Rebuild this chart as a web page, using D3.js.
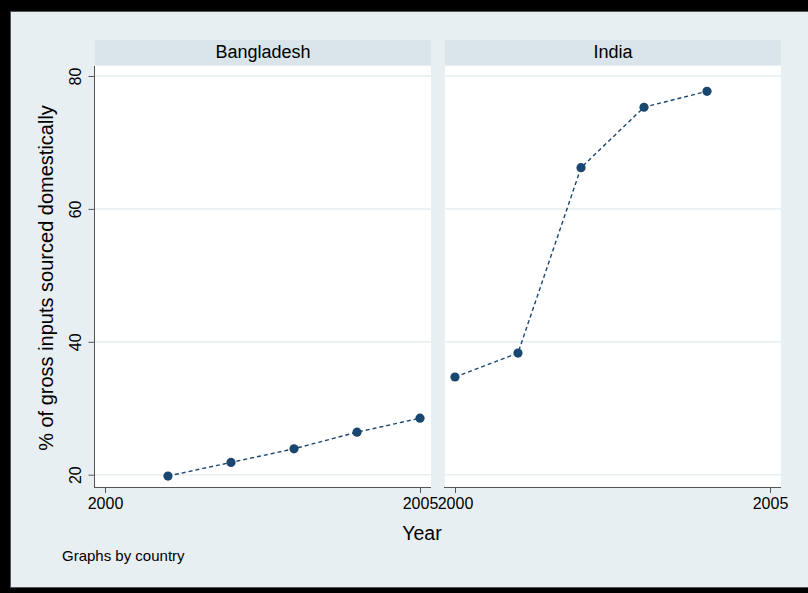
<!DOCTYPE html>
<html lang="en">
<head>
<meta charset="utf-8">
<title>Domestic sourcing by country</title>
<script src="https://cdn.jsdelivr.net/npm/d3@7"></script>
<style>
    body { margin: 0; background: #000; }
    text { font-family: "Liberation Sans", Arial, sans-serif; fill: #000; }
</style>
</head>
<body>
<script>
    // data
    var countries = ["Bangladesh", "India"];
    var bgdYears = [2001, 2002, 2003, 2004, 2005];
    var bgdShare = [19.8, 21.85, 23.9, 26.4, 28.5];
    var indYears = [2000, 2001, 2002, 2003, 2004];
    var indShare = [34.7, 38.3, 66.2, 75.3, 77.7];
    var yTicks = [20, 40, 60, 80];
    var xTicks = [2000, 2005];

    var w = 808, h = 593;
    var navy = "#1a476f";

    var svg = d3.select("body").append("svg")
        .attr("width", w).attr("height", h);

    // black frame and light graph region
    svg.append("rect").attr("width", w).attr("height", h).attr("fill", "#000");
    svg.append("rect")
        .attr("x", 10.5).attr("y", 11.5).attr("width", w).attr("height", 576)
        .attr("fill", "#e8eff2").attr("stroke", "#555").attr("stroke-width", 1);

    // panel layout
    var panels = [
        { name: countries[0], left: 95, right: 431, years: bgdYears, share: bgdShare },
        { name: countries[1], left: 445, right: 781, years: indYears, share: indShare }
    ];
    var plotTop = 66, plotBottom = 487;

    var y = d3.scaleLinear().domain([20, 80]).range([474.7, 76]);

    panels.forEach(function(p, i) {
        var x = d3.scaleLinear().domain([2000, 2005]).range([p.left + 10, p.right - 11]);
        var g = svg.append("g");

        // strip
        g.append("rect")
            .attr("x", p.left).attr("y", 40).attr("width", p.right - p.left).attr("height", 25)
            .attr("fill", "#d9e5eb");
        g.append("text")
            .attr("x", (p.left + p.right) / 2).attr("y", 58)
            .attr("text-anchor", "middle").attr("font-size", 18)
            .text(p.name);

        // plot area
        g.append("rect")
            .attr("x", p.left).attr("y", plotTop).attr("width", p.right - p.left)
            .attr("height", plotBottom - plotTop).attr("fill", "#fff");

        // gridlines
        g.selectAll(".grid").data(yTicks).enter().append("line")
            .attr("x1", p.left).attr("x2", p.right)
            .attr("y1", d => y(d)).attr("y2", d => y(d))
            .attr("stroke", "#e6eef0").attr("stroke-width", 1.5);

        // x axis
        var xAxis = g.append("g")
            .attr("transform", "translate(0," + plotBottom + ")")
            .call(d3.axisBottom(x).tickValues(xTicks).tickFormat(d3.format("d"))
                .tickSize(6).tickPadding(5).tickSizeOuter(0));
        xAxis.select(".domain").attr("d", "M" + (p.left - 1) + ",0.5H" + p.right)
            .attr("stroke", "#555");
        xAxis.selectAll(".tick line").attr("stroke", "#555");
        xAxis.selectAll("text").attr("font-size", 16).attr("font-family", null);

        // y axis only on the first panel
        if (i === 0) {
            var yAxis = g.append("g")
                .attr("transform", "translate(" + (p.left - 0.5) + ",0)")
                .call(d3.axisLeft(y).tickValues(yTicks).tickSize(6).tickPadding(4).tickSizeOuter(0));
            yAxis.select(".domain").attr("d", "M0," + plotTop + "V" + (plotBottom + 0.5))
                .attr("stroke", "#555");
            yAxis.selectAll(".tick line").attr("stroke", "#555");
            yAxis.selectAll("text")
                .attr("font-size", 16).attr("font-family", null)
                .attr("transform", "rotate(-90)")
                .attr("x", 0).attr("y", -13.5)
                .attr("dy", 0)
                .attr("text-anchor", "middle");
        }

        // the series
        var pts = p.years.map((yr, k) => [yr, p.share[k]]);
        var line = d3.line().x(d => x(d[0])).y(d => y(d[1]));
        g.append("path").datum(pts)
            .attr("d", line).attr("fill", "none")
            .attr("stroke", navy).attr("stroke-width", 1.4)
            .attr("stroke-dasharray", "4,3");
        g.selectAll(".dot").data(pts).enter().append("circle")
            .attr("cx", d => x(d[0])).attr("cy", d => y(d[1]))
            .attr("r", 4.6).attr("fill", navy);
    });

    // titles
    svg.append("text")
        .attr("x", 422).attr("y", 540)
        .attr("text-anchor", "middle").attr("font-size", 19.5)
        .text("Year");
    svg.append("text")
        .attr("transform", "translate(53,278) rotate(-90)")
        .attr("text-anchor", "middle").attr("font-size", 20)
        .text("% of gross inputs sourced domestically");
    svg.append("text")
        .attr("x", 62).attr("y", 561)
        .attr("font-size", 15)
        .text("Graphs by country");
</script>
</body>
</html>
